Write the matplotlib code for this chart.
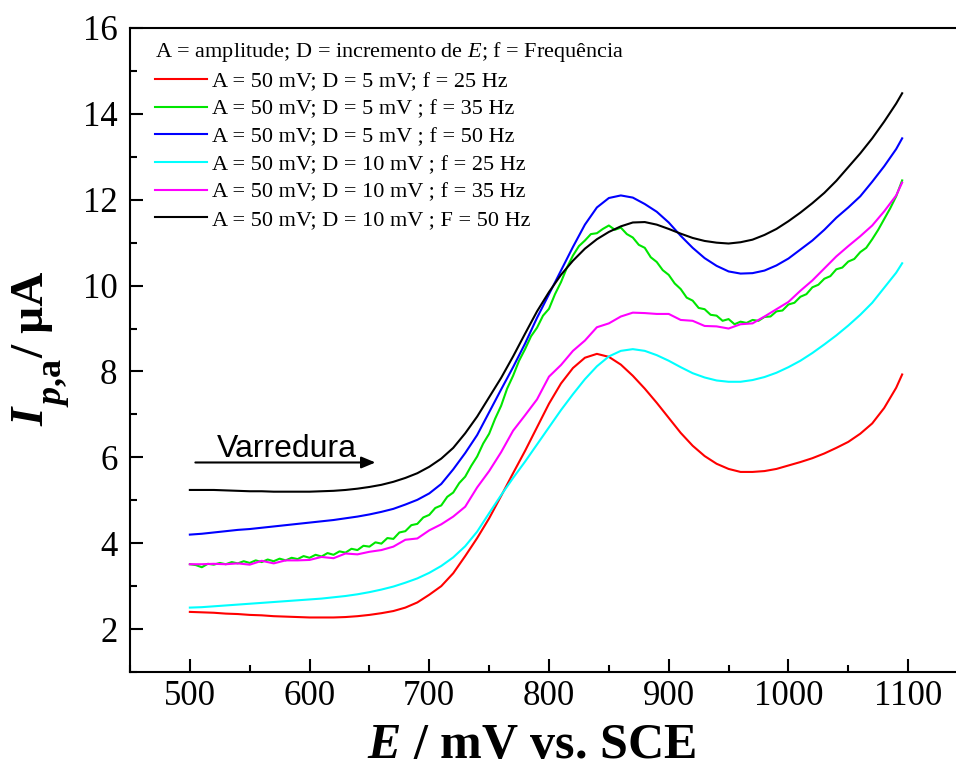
import matplotlib
matplotlib.use("Agg")
import matplotlib.pyplot as plt
from matplotlib.ticker import MultipleLocator

# potential grid (mV vs. SCE)
E_10 = list(range(500, 1091, 10)) + [1095]
E_5 = list(range(500, 1096, 5))

# peak current (uA)
i_d5_f25 = [2.40, 2.39, 2.38, 2.36, 2.35, 2.33, 2.32, 2.30, 2.29, 2.28,
            2.27, 2.27, 2.27, 2.28, 2.30, 2.33, 2.37, 2.42, 2.50, 2.62,
            2.80, 3.00, 3.30, 3.70, 4.12, 4.58, 5.10, 5.63, 6.15, 6.70,
            7.25, 7.72, 8.08, 8.32, 8.41, 8.34, 8.16, 7.90, 7.60, 7.27,
            6.92, 6.57, 6.27, 6.03, 5.85, 5.73, 5.66, 5.66, 5.68, 5.73,
            5.81, 5.89, 5.98, 6.09, 6.22, 6.36, 6.55, 6.79, 7.15, 7.62, 7.93]

i_d5_f35 = [3.51, 3.49, 3.44, 3.52, 3.50, 3.54, 3.51, 3.56, 3.53, 3.58,
            3.54, 3.60, 3.56, 3.62, 3.58, 3.64, 3.60, 3.66, 3.63, 3.70,
            3.66, 3.73, 3.69, 3.77, 3.73, 3.81, 3.78, 3.87, 3.84, 3.94,
            3.92, 4.02, 3.99, 4.12, 4.10, 4.25, 4.28, 4.42, 4.45, 4.60,
            4.66, 4.82, 4.88, 5.08, 5.18, 5.40, 5.55, 5.80, 6.02, 6.32,
            6.55, 6.90, 7.20, 7.60, 7.90, 8.25, 8.52, 8.82, 9.02, 9.30,
            9.46, 9.80, 10.08, 10.42, 10.70, 10.92, 11.05, 11.20, 11.22, 11.32,
            11.40, 11.30, 11.35, 11.20, 11.12, 10.95, 10.88, 10.66, 10.55, 10.36,
            10.25, 10.05, 9.92, 9.72, 9.65, 9.48, 9.45, 9.32, 9.30, 9.18,
            9.22, 9.10, 9.16, 9.13, 9.20, 9.18, 9.27, 9.28, 9.40, 9.42,
            9.56, 9.60, 9.74, 9.80, 9.96, 10.02, 10.16, 10.22, 10.38, 10.42,
            10.56, 10.62, 10.78, 10.88, 11.08, 11.30, 11.55, 11.80, 12.08, 12.45]

i_d5_f50 = [4.20, 4.22, 4.25, 4.28, 4.31, 4.33, 4.36, 4.39, 4.42, 4.45,
            4.48, 4.51, 4.54, 4.58, 4.62, 4.67, 4.73, 4.80, 4.90, 5.01,
            5.16, 5.38, 5.72, 6.10, 6.52, 7.05, 7.58, 8.10, 8.65, 9.25,
            9.80, 10.35, 10.90, 11.42, 11.82, 12.04, 12.10, 12.05, 11.90, 11.72,
            11.47, 11.16, 10.88, 10.64, 10.46, 10.33, 10.28, 10.29, 10.35, 10.47,
            10.63, 10.84, 11.05, 11.30, 11.58, 11.82, 12.08, 12.42, 12.78, 13.18, 13.43]

i_d10_f25 = [2.50, 2.51, 2.53, 2.55, 2.57, 2.59, 2.61, 2.63, 2.65, 2.67,
             2.69, 2.71, 2.74, 2.77, 2.81, 2.86, 2.92, 2.99, 3.08, 3.18,
             3.31, 3.47, 3.67, 3.93, 4.27, 4.70, 5.12, 5.52, 5.90, 6.30,
             6.70, 7.10, 7.47, 7.82, 8.12, 8.35, 8.48, 8.52, 8.48, 8.38,
             8.25, 8.10, 7.96, 7.86, 7.79, 7.76, 7.76, 7.80, 7.87, 7.97,
             8.10, 8.25, 8.43, 8.63, 8.84, 9.07, 9.32, 9.60, 9.95, 10.30, 10.52]

i_d10_f35 = [3.51, 3.51, 3.52, 3.51, 3.53, 3.50, 3.59, 3.53, 3.60, 3.60,
             3.61, 3.68, 3.65, 3.76, 3.74, 3.80, 3.84, 3.92, 4.08, 4.11,
             4.30, 4.44, 4.62, 4.85, 5.30, 5.68, 6.12, 6.62, 6.98, 7.35,
             7.88, 8.15, 8.48, 8.72, 9.03, 9.12, 9.28, 9.37, 9.36, 9.34,
             9.34, 9.20, 9.18, 9.06, 9.05, 9.00, 9.10, 9.12, 9.28, 9.45,
             9.62, 9.88, 10.12, 10.40, 10.68, 10.92, 11.15, 11.40, 11.73, 12.10, 12.40]

i_d10_f50 = [5.24, 5.24, 5.24, 5.23, 5.22, 5.21, 5.21, 5.20, 5.20, 5.20,
             5.20, 5.21, 5.22, 5.24, 5.27, 5.31, 5.36, 5.43, 5.52, 5.63,
             5.78, 5.97, 6.22, 6.56, 6.95, 7.40, 7.85, 8.35, 8.88, 9.40,
             9.85, 10.25, 10.58, 10.86, 11.08, 11.25, 11.38, 11.47, 11.48, 11.42,
             11.32, 11.21, 11.11, 11.04, 11.00, 10.98, 11.01, 11.07, 11.18, 11.32,
             11.50, 11.70, 11.92, 12.16, 12.44, 12.76, 13.08, 13.43, 13.82, 14.24, 14.48]

series = [
    (E_10, i_d5_f25, "#ff0000", "A = 50 mV; D = 5 mV; f = 25 Hz"),
    (E_5, i_d5_f35, "#00e600", "A = 50 mV; D = 5 mV ; f = 35 Hz"),
    (E_10, i_d5_f50, "#0000ff", "A = 50 mV; D = 5 mV ; f = 50 Hz"),
    (E_10, i_d10_f25, "#00ffff", "A = 50 mV; D = 10 mV ; f = 25 Hz"),
    (E_10, i_d10_f35, "#ff00ff", "A = 50 mV; D = 10 mV ; f = 35 Hz"),
    (E_10, i_d10_f50, "#000000", "A = 50 mV; D = 10 mV ; F = 50 Hz"),
]

plt.rcParams["font.family"] = "Liberation Serif"
plt.rcParams["mathtext.fontset"] = "custom"
plt.rcParams["mathtext.rm"] = "Liberation Serif:bold"
plt.rcParams["mathtext.bf"] = "Liberation Serif:bold"
plt.rcParams["mathtext.it"] = "Liberation Serif:bold:italic"
plt.rcParams["mathtext.sf"] = "Liberation Serif:italic"

W, H = 956, 762


def px(x, y):
    """pixel position (from top-left) -> figure fraction"""
    return x / W, 1 - y / H


def main():
    fig = plt.figure(figsize=(W / 100, H / 100), dpi=100)
    ax = fig.add_axes([130 / W, 90 / H, 838 / W, 644 / H])

    for x, y, color, label in series:
        ax.plot(x, y, color=color, lw=1.5, label=label)

    ax.set_xlim(450, 1150)
    ax.set_ylim(1, 16)
    ax.xaxis.set_minor_locator(MultipleLocator(50))
    ax.yaxis.set_minor_locator(MultipleLocator(1))
    ax.set_xticks(range(500, 1101, 100))
    ax.set_yticks(range(2, 17, 2))

    ax.spines["right"].set_visible(False)
    for s in ax.spines.values():
        s.set_linewidth(1.5)
    ax.tick_params(which="both", direction="in", width=1.5, top=False, right=False)
    ax.tick_params(which="major", length=9.5, labelsize=25)
    ax.tick_params(axis="x", which="major", pad=6)
    ax.tick_params(axis="y", which="major", pad=9)
    ax.tick_params(which="minor", length=5)

    # axis titles
    fig.text(*px(531.5, 758), r"$E$ / mV vs. SCE", fontsize=36,
             fontweight="bold", ha="center", va="baseline")
    ylab = dict(rotation=90, rotation_mode="anchor", ha="left", va="baseline",
                fontweight="bold")
    fig.text(*px(43, 426), "I", fontsize=34, fontstyle="italic", **ylab)
    fig.text(*px(61, 407), r"$p$,a", fontsize=26, **ylab)
    fig.text(*px(43, 358), "/ µA", fontsize=34, **ylab)

    ax.legend(
        loc="upper left",
        bbox_to_anchor=(0.030, 0.981),
        frameon=False,
        fontsize=16,
        title=r"A = amplitude; D = incremento de $\mathsf{E}$; f = Frequência",
        title_fontsize=16,
        alignment="left",
        handlelength=2.34,
        handletextpad=0.22,
        labelspacing=0.32,
        borderpad=0,
        borderaxespad=0,
    )

    # scan direction
    ax.annotate("", xy=(655, 5.88), xytext=(504.6, 5.88),
                arrowprops=dict(arrowstyle="-|>,head_length=0.6,head_width=0.25",
                                color="k", lw=1.5, mutation_scale=14,
                                shrinkA=0, shrinkB=0))
    ax.text(522.8, 6.0, "Varredura", fontsize=23, family="Liberation Sans",
            ha="left", va="baseline")

    fig.savefig("out.png", dpi=100)


if __name__ == "__main__":
    main()
